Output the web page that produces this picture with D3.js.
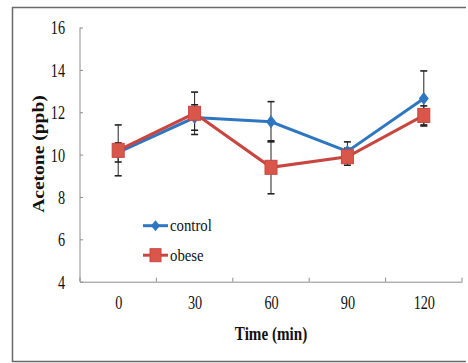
<!DOCTYPE html>
<html>
<head>
<meta charset="utf-8">
<script src="https://cdn.jsdelivr.net/npm/d3@7"></script>
<style>
  body { margin: 0; background: #fff; overflow: hidden; }
  svg { display: block; }
  svg text { font-family: "Liberation Serif", "Times New Roman", serif; }
</style>
</head>
<body>
<div id="chart"></div>
<script>
// data
var times = ["0", "30", "60", "90", "120"];
var control = [10.1, 11.75, 11.55, 10.15, 12.65];
var controlErr = [0.45, 0.6, 0.95, 0.45, 1.3];
var obese = [10.2, 11.95, 9.4, 9.9, 11.85];
var obeseErr = [1.2, 1.0, 1.25, 0.4, 0.45];
var yTicks = [4, 6, 8, 10, 12, 14, 16];

var width = 468, height = 363;
var blue = "#2f76c0", red = "#c8463f", redFill = "#d9574a";
var serif = "'Liberation Serif', 'Times New Roman', serif";

var svg = d3.select("#chart").append("svg")
  .attr("width", width)
  .attr("height", height);

// outer frame (right edge is cut off in the original)
svg.append("path")
  .attr("d", "M466,7.5H12.5V361.5H466")
  .attr("fill", "none")
  .attr("stroke", "#6a6a6a")
  .attr("stroke-width", 1.5);

var xBand = d3.scaleBand().domain(times).range([80, 462]);
var x = d3.scalePoint().domain(times).range([80, 462]).padding(0.5);
var y = d3.scaleLinear().domain([4, 16]).range([281.7, 27.5]);

// y axis
var yAxis = svg.append("g")
  .attr("transform", "translate(80,0)")
  .attr("font-family", serif)
  .call(d3.axisLeft(y).tickValues(yTicks).tickSize(-3).tickFormat(d3.format("d")));
yAxis.attr("font-family", serif);
yAxis.select(".domain").attr("stroke", "#8c8c8c").attr("d", "M0," + y(16) + "V" + y(4));
yAxis.selectAll(".tick line").attr("stroke", "#8c8c8c");
yAxis.selectAll(".tick text")
  .attr("x", -15 / 0.75)
  .attr("dy", "0.34em")
  .attr("transform", "scale(0.75,1)")
  .style("font-size", "19px")
  .style("font-family", serif)
  .attr("fill", "#111");

// x axis
var xAxis = svg.append("g")
  .attr("transform", "translate(0," + y(4) + ")")
  .call(d3.axisBottom(x).tickSize(0).tickPadding(14));
xAxis.attr("font-family", serif);
xAxis.select(".domain").attr("stroke", "#8c8c8c");
xAxis.selectAll(".tick text")
  .attr("transform", "scale(0.75,1)")
  .style("font-size", "19px")
  .style("font-family", serif)
  .attr("fill", "#111");
xAxis.selectAll(".sep")
  .data(times.map(function(d) { return xBand(d); }).concat([462]))
  .enter().append("line")
  .attr("class", "sep")
  .attr("x1", function(d) { return d; })
  .attr("x2", function(d) { return d; })
  .attr("y1", 0).attr("y2", -4)
  .attr("stroke", "#8c8c8c");

// axis titles
svg.append("text")
  .attr("transform", "translate(271,340) scale(0.84,1)")
  .attr("text-anchor", "middle")
  .style("font-size", "18px")
  .style("font-weight", "bold")
  .style("font-family", serif)
  .attr("fill", "#111")
  .text("Time (min)");

svg.append("text")
  .attr("transform", "translate(44,154) rotate(-90) scale(1.22,1)")
  .attr("text-anchor", "middle")
  .style("font-size", "16px")
  .style("font-weight", "bold")
  .style("font-family", serif)
  .attr("fill", "#111")
  .text("Acetone (ppb)");

var series = [
  { name: "control", values: control, err: controlErr, color: blue },
  { name: "obese", values: obese, err: obeseErr, color: red }
];

// error bars
series.forEach(function(s) {
  var g = svg.append("g").attr("stroke", "#222");
  times.forEach(function(t, i) {
    var cx = x(t), hi = y(s.values[i] + s.err[i]), lo = y(s.values[i] - s.err[i]);
    g.append("line").attr("x1", cx).attr("x2", cx).attr("y1", hi).attr("y2", lo)
      .attr("stroke-width", 1);
    [hi, lo].forEach(function(v) {
      g.append("line").attr("x1", cx - 3.5).attr("x2", cx + 3.5).attr("y1", v).attr("y2", v)
        .attr("stroke-width", 1.6);
    });
  });
});

var line = d3.line()
  .x(function(d, i) { return x(times[i]); })
  .y(function(d) { return y(d); });

series.forEach(function(s) {
  svg.append("path")
    .datum(s.values)
    .attr("d", line)
    .attr("fill", "none")
    .attr("stroke", s.color)
    .attr("stroke-width", 3);
  if (s.name == "control") {
    svg.selectAll(".dia")
      .data(s.values)
      .enter().append("path")
      .attr("class", "dia")
      .attr("d", "M0,-6.5L5,0L0,6.5L-5,0Z")
      .attr("transform", function(d, i) { return "translate(" + x(times[i]) + "," + y(d) + ")"; })
      .attr("fill", blue);
  } else {
    svg.selectAll(".sq")
      .data(s.values)
      .enter().append("rect")
      .attr("class", "sq")
      .attr("x", function(d, i) { return x(times[i]) - 6; })
      .attr("y", function(d) { return y(d) - 7; })
      .attr("width", 12).attr("height", 14)
      .attr("fill", redFill)
      .attr("stroke", red)
      .attr("stroke-width", 1);
  }
});

// legend
var legend = svg.append("g");
series.forEach(function(s, i) {
  var ly = 225.7 + i * 29.5;
  legend.append("line")
    .attr("x1", 143).attr("x2", 168).attr("y1", ly).attr("y2", ly)
    .attr("stroke", s.color).attr("stroke-width", 3);
  if (s.name == "control") {
    legend.append("path")
      .attr("d", "M0,-5.5L4.5,0L0,5.5L-4.5,0Z")
      .attr("transform", "translate(155.5," + ly + ")")
      .attr("fill", blue);
  } else {
    legend.append("rect")
      .attr("x", 150).attr("y", ly - 6.5).attr("width", 11).attr("height", 13)
      .attr("fill", redFill).attr("stroke", red);
  }
  legend.append("text")
    .attr("transform", "translate(170," + (ly + 5.5) + ") scale(0.87,1)")
    .style("font-size", "17px")
    .style("font-family", serif)
    .attr("fill", "#111")
    .text(s.name);
});
</script>
</body>
</html>
